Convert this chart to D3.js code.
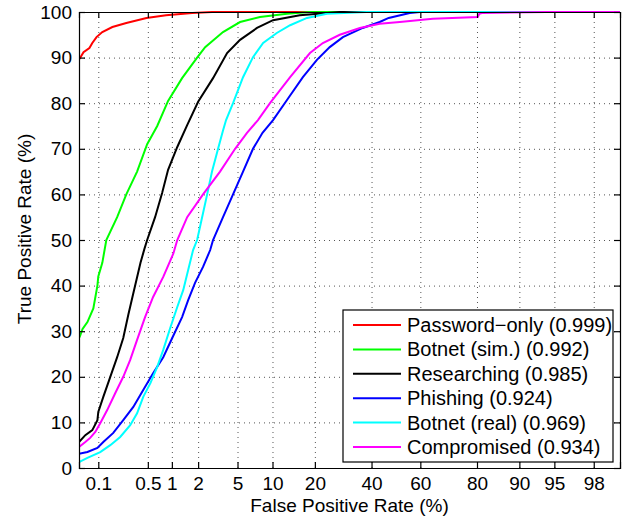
<!doctype html>
<head>
  <meta charset="utf-8">
  <script src="https://cdnjs.cloudflare.com/ajax/libs/d3/7.8.2/d3.min.js"></script>
</head>
<style>
    body { margin: 0; background: white; }
    svg text { font-family: "Liberation Sans", Arial, sans-serif; fill: black; }
</style>
<body>
    <div id="chart"></div>
    <script>
        // Ejes: FPR en escala normal (probit), TPR lineal
        const xTicks = [0.1, 0.5, 1, 2, 5, 10, 20, 40, 60, 80, 90, 95, 98];
        const yTicks = [0, 10, 20, 30, 40, 50, 60, 70, 80, 90, 100];
        const xDomain = [0.05, 99];

        const names = ["Password\u2212only (0.999)", "Botnet (sim.) (0.992)", "Researching (0.985)",
                       "Phishing (0.924)", "Botnet (real) (0.969)", "Compromised (0.934)"];
        const colors = ["#ff0000", "#00ff00", "#000000", "#0000ff", "#00ffff", "#ff00ff"];

        // Curvas ROC (FPR %, TPR %)
        const passwordFpr = [0.05, 0.052, 0.059, 0.073, 0.081, 0.094, 0.115, 0.162, 0.256, 0.48, 0.85, 1.72, 2.81, 99];
        const passwordTpr = [89.6, 89.9, 91.2, 92.1, 93.2, 94.5, 95.6, 96.7, 97.6, 98.7, 99.3, 99.8, 100, 100];

        const botSimFpr = [0.05, 0.052, 0.057, 0.068, 0.084, 0.097, 0.10, 0.115, 0.132, 0.19, 0.256, 0.36, 0.49, 0.66, 0.9, 1.32, 1.95, 2.38, 3.63, 5.28, 7.9, 12.9, 18.6, 99];
        const botSimTpr = [28.5, 29, 30.5, 32, 35, 40, 42, 45, 50, 55, 60, 65, 71, 75, 80.5, 85.5, 90, 92.3, 95.6, 97.8, 98.9, 99.6, 100, 100];

        const researchFpr = [0.05, 0.063, 0.081, 0.097, 0.10, 0.119, 0.151, 0.19, 0.232, 0.273, 0.32, 0.40, 0.45, 0.49, 0.62, 0.76, 0.9, 1.16, 1.51, 2.0, 2.88, 3.98, 5.28, 7.46, 10.1, 15.9, 28, 99];
        const researchTpr = [5.7, 7.2, 8.3, 10.5, 12.3, 15.6, 20, 24.3, 28.5, 33.6, 38.3, 45, 48, 50, 55, 60.3, 65.4, 70.4, 75.2, 80.3, 85.5, 91, 93.9, 96.5, 98.2, 99.3, 100, 100];

        const phishFpr = [0.05, 0.068, 0.097, 0.119, 0.167, 0.232, 0.32, 0.435, 0.585, 0.785, 1.01, 1.32, 1.55, 1.85, 2.26, 2.69, 2.88, 3.63, 4.54, 5.62, 6.89, 8.3, 10.1, 12.9, 16.7, 20.6, 24.6, 29.1, 36.5, 43.3, 47, 55.7, 59.8, 99];
        const phishTpr = [3.1, 3.5, 4.4, 5.7, 7.7, 10.5, 13.4, 17.1, 20.8, 24.3, 28.5, 33.1, 36.8, 40.6, 44.1, 47.8, 50, 55, 60, 65, 70, 73.5, 76.3, 80.7, 85.7, 89.5, 92.3, 94.5, 96.5, 97.8, 98.7, 99.8, 100, 100];

        const botRealFpr = [0.05, 0.068, 0.107, 0.151, 0.21, 0.29, 0.36, 0.435, 0.54, 0.66, 0.785, 0.955, 1.16, 1.36, 1.55, 1.76, 1.95, 2.21, 2.5, 2.81, 3.24, 3.63, 3.89, 4.54, 5.62, 6.89, 8.4, 10.8, 13.6, 17.8, 23.7, 38, 99];
        const botRealTpr = [1.3, 2.2, 3.5, 5, 6.8, 9.4, 12, 15.6, 18.6, 22.2, 25.9, 30.7, 35.3, 39, 43.4, 47.8, 50, 55, 60, 65, 70, 74, 76.3, 80, 85.7, 90.1, 93.2, 95.4, 97.1, 98.7, 99.6, 100, 100];

        const compFpr = [0.05, 0.063, 0.075, 0.09, 0.107, 0.136, 0.178, 0.232, 0.29, 0.36, 0.46, 0.585, 0.785, 1.04, 1.16, 1.51, 2.26, 3.39, 4.75, 6.1, 7.6, 9.55, 13.6, 18.6, 22.4, 28, 35.4, 43.3, 51.6, 64.9, 80.2, 80.7, 81.6, 94.1, 99];
        const compTpr = [4.6, 5.7, 6.6, 7.9, 9.8, 12.7, 16.4, 20, 23.7, 28.1, 33.1, 37.5, 41.9, 47, 50, 55, 60, 65, 70, 73.5, 76.3, 80, 85.7, 91, 93.2, 95, 96.5, 97.4, 97.8, 98.5, 98.9, 99.6, 99.8, 100, 100];

        const seriesFpr = [passwordFpr, botSimFpr, researchFpr, phishFpr, botRealFpr, compFpr];
        const seriesTpr = [passwordTpr, botSimTpr, researchTpr, phishTpr, botRealTpr, compTpr];

        // Inversa de la normal (Acklam)
        function probit(p) {
            const a = [-3.969683028665376e+01, 2.209460984245205e+02, -2.759285104469687e+02, 1.383577518672690e+02, -3.066479806614716e+01, 2.506628277459239e+00];
            const b = [-5.447609879822406e+01, 1.615858368580409e+02, -1.556989798598866e+02, 6.680131188771972e+01, -1.328068155288572e+01];
            const c = [-7.784894002430293e-03, -3.223964580411365e-01, -2.400758277161838e+00, -2.549732539343734e+00, 4.374664141464968e+00, 2.938163982698783e+00];
            const d = [7.784695709041462e-03, 3.224671290700398e-01, 2.445134137142996e+00, 3.754408661907416e+00];
            const pl = 0.02425;
            if (p < pl) {
                const q = Math.sqrt(-2 * Math.log(p));
                return (((((c[0]*q+c[1])*q+c[2])*q+c[3])*q+c[4])*q+c[5]) / ((((d[0]*q+d[1])*q+d[2])*q+d[3])*q+1);
            }
            if (p > 1 - pl) {
                const q = Math.sqrt(-2 * Math.log(1 - p));
                return -(((((c[0]*q+c[1])*q+c[2])*q+c[3])*q+c[4])*q+c[5]) / ((((d[0]*q+d[1])*q+d[2])*q+d[3])*q+1);
            }
            const q = p - 0.5, r = q * q;
            return (((((a[0]*r+a[1])*r+a[2])*r+a[3])*r+a[4])*r+a[5])*q / (((((b[0]*r+b[1])*r+b[2])*r+b[3])*r+b[4])*r+1);
        }
        const z = (v) => probit(v / 100);

        const margin = {top: 12, right: 6, bottom: 50, left: 79};
        const width = 626 - margin.left - margin.right;
        const height = 518 - margin.top - margin.bottom;

        const svg = d3.select('#chart').append('svg')
            .attr('width', 626)
            .attr('height', 518);

        const g = svg.append('g')
            .attr('transform', `translate(${margin.left},${margin.top})`);

        const xLin = d3.scaleLinear().domain(xDomain.map(z)).range([0, width]);
        const y = d3.scaleLinear().domain([0, 100]).range([height, 0]);
        const xz = xTicks.map(z);

        // Rejilla punteada
        g.append('g')
            .attr('transform', `translate(0,${height})`)
            .call(d3.axisBottom(xLin).tickValues(xz).tickSize(-height).tickFormat(''))
            .call(a => a.select('.domain').remove())
            .selectAll('line')
            .attr('stroke', '#555')
            .attr('stroke-dasharray', '1,4');

        g.append('g')
            .call(d3.axisLeft(y).tickValues(yTicks.slice(1, -1)).tickSize(-width).tickFormat(''))
            .call(a => a.select('.domain').remove())
            .selectAll('line')
            .attr('stroke', '#555')
            .attr('stroke-dasharray', '1,4');

        // Curvas
        const clip = svg.append('clipPath').attr('id', 'clip')
            .append('rect').attr('width', width).attr('height', height + 1).attr('y', -1);

        const line = d3.line()
            .x((d) => xLin(z(d[0])))
            .y((d) => y(d[1]));

        g.append('g').attr('clip-path', 'url(#clip)')
            .selectAll('path')
            .data(seriesFpr.map((f, i) => f.map((v, j) => [v, seriesTpr[i][j]])))
            .enter()
            .append('path')
            .attr('d', line)
            .attr('fill', 'none')
            .attr('stroke', (d, i) => colors[i])
            .attr('stroke-width', 2);

        // Ejes con marcas hacia dentro
        const fontSize = '19px';
        const xAxis = g.append('g')
            .attr('transform', `translate(0,${height})`)
            .call(d3.axisBottom(xLin).tickValues(xz).tickSize(-6).tickPadding(9)
                .tickFormat((d, i) => xTicks[i]));
        const yAxis = g.append('g')
            .call(d3.axisLeft(y).tickValues(yTicks).tickSize(-6).tickPadding(7));
        const xTop = g.append('g')
            .call(d3.axisTop(xLin).tickValues(xz).tickSize(-6).tickFormat(''));
        const yRight = g.append('g')
            .attr('transform', `translate(${width},0)`)
            .call(d3.axisRight(y).tickValues(yTicks).tickSize(-6).tickFormat(''));

        [xAxis, yAxis, xTop, yRight].forEach((a) => {
            a.selectAll('path, line').attr('stroke', '#000').attr('stroke-width', 1.2);
            a.selectAll('text').style('font-size', fontSize).attr('fill', '#000');
        });

        // Títulos
        svg.append('text')
            .attr('x', margin.left + width / 2)
            .attr('y', 512)
            .attr('text-anchor', 'middle')
            .style('font-size', fontSize)
            .text('False Positive Rate (%)');

        svg.append('text')
            .attr('transform', 'translate(31,229) rotate(-90)')
            .attr('text-anchor', 'middle')
            .style('font-size', fontSize)
            .text('True Positive Rate (%)');

        // Leyenda
        const legend = svg.append('g').attr('transform', 'translate(343,310)');
        legend.append('rect')
            .attr('width', 270).attr('height', 152)
            .attr('fill', 'white').attr('stroke', 'black').attr('stroke-width', 1.2);
        const rows = legend.selectAll('.row')
            .data(names)
            .enter()
            .append('g')
            .attr('transform', (d, i) => `translate(0,${15 + i * 24.4})`);
        rows.append('line')
            .attr('x1', 10).attr('x2', 58)
            .attr('stroke', (d, i) => colors[i])
            .attr('stroke-width', 2);
        rows.append('text')
            .attr('x', 64)
            .attr('dy', '0.35em')
            .style('font-size', '20px')
            .text((d) => d);
    </script>
</body>
